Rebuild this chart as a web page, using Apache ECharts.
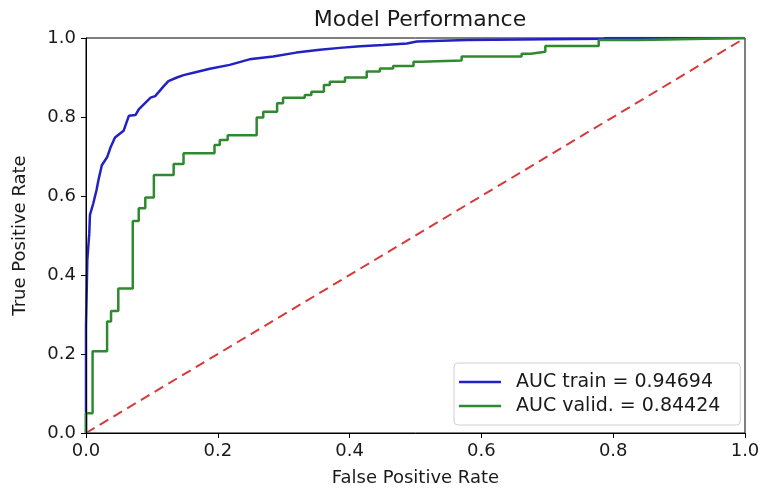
<!DOCTYPE html>
<html>
<head>
<meta charset="utf-8">
<script src="https://cdn.jsdelivr.net/npm/echarts@6/dist/echarts.min.js"></script>
<style>
  html, body { margin: 0; padding: 0; background: #fff; }
  #chart { width: 766px; height: 492px; }
</style>
</head>
<body>
<div id="chart"></div>
<script>
// ROC curve of the training set (false positive rate, true positive rate)
const trainFpr = [0, 0, 0.002, 0.005, 0.006, 0.011, 0.016, 0.019, 0.024, 0.032, 0.037, 0.044,
  0.057, 0.065, 0.075, 0.080, 0.090, 0.098, 0.105, 0.118, 0.125, 0.138, 0.148, 0.163,
  0.188, 0.218, 0.248, 0.284, 0.319, 0.355, 0.385, 0.416, 0.451, 0.487, 0.502, 0.578,
  0.700, 0.785, 0.790, 1.0];
const trainTpr = [0, 0.27, 0.438, 0.506, 0.552, 0.581, 0.615, 0.641, 0.678, 0.698, 0.722, 0.748,
  0.765, 0.803, 0.805, 0.819, 0.836, 0.849, 0.853, 0.878, 0.891, 0.900, 0.906, 0.912,
  0.922, 0.932, 0.946, 0.953, 0.963, 0.970, 0.975, 0.979, 0.982, 0.986, 0.991, 0.995,
  0.997, 0.998, 1.0, 1.0];

// ROC curve of the validation set: each pair is where a step rises and the height it reaches
const validFpr = [0, 0, 0.010, 0.032, 0.038, 0.049, 0.071, 0.080, 0.090, 0.103, 0.133, 0.148,
  0.195, 0.203, 0.215, 0.259, 0.269, 0.290, 0.299, 0.332, 0.342, 0.361, 0.370, 0.393,
  0.426, 0.446, 0.466, 0.497, 0.509, 0.570, 0.661, 0.675, 0.697, 0.778, 0.841, 1.0];
const validTpr = [0, 0.05, 0.207, 0.282, 0.309, 0.366, 0.537, 0.569, 0.596, 0.653, 0.681, 0.708,
  0.729, 0.742, 0.754, 0.799, 0.813, 0.835, 0.849, 0.856, 0.864, 0.881, 0.889, 0.900,
  0.915, 0.923, 0.929, 0.940, 0.943, 0.953, 0.960, 0.965, 0.980, 0.995, 1.0, 1.0];

// Chance line
const chanceX = [0, 1];
const chanceY = [0, 1];

const aucTrain = 0.94694;
const aucValid = 0.84424;
const seriesNames = ['AUC train = ' + aucTrain.toFixed(5), 'AUC valid. = ' + aucValid.toFixed(5)];
const tickValues = [0, 0.2, 0.4, 0.6, 0.8, 1.0];

const pairs = (xs, ys) => xs.map((x, i) => [x, ys[i]]);

const FONT = 'DejaVu Sans';
const TEXT = '#1a1a1a';
const BLUE = '#2222c4';
const GREEN = '#2f892f';

const axisCommon = {
  type: 'value',
  min: tickValues[0],
  max: tickValues[tickValues.length - 1],
  interval: 0.2,
  z: 5,
  splitLine: { show: false },
  axisLine: { show: true, lineStyle: { color: '#000', width: 1 } },
  axisTick: { show: true, inside: false, length: 5, lineStyle: { color: '#000', width: 1 } },
  axisLabel: {
    color: TEXT, fontFamily: FONT, fontSize: 18,
    formatter: v => v.toFixed(1)
  },
  nameLocation: 'middle',
  nameTextStyle: { color: TEXT, fontFamily: FONT, fontSize: 18 }
};

const chart = echarts.init(document.getElementById('chart'), null, { renderer: 'canvas' });
chart.setOption({
  animation: false,
  backgroundColor: '#fff',
  title: {
    text: 'Model Performance',
    left: 415, top: 4, textAlign: 'center',
    textStyle: { color: TEXT, fontFamily: FONT, fontSize: 22, fontWeight: 'normal' }
  },
  grid: {
    left: 86, right: 21, top: 38, bottom: 59,
    show: true, borderColor: '#000', borderWidth: 1, backgroundColor: '#fff'
  },
  xAxis: Object.assign({}, axisCommon, {
    name: 'False Positive Rate', nameGap: 36,
    axisLabel: Object.assign({}, axisCommon.axisLabel, { margin: 9 })
  }),
  yAxis: Object.assign({}, axisCommon, {
    name: 'True Positive Rate', nameGap: 57,
    axisLabel: Object.assign({}, axisCommon.axisLabel, { margin: 10 })
  }),
  legend: {
    orient: 'vertical',
    left: 454, top: 363,
    padding: [8, 20, 8, 5],
    icon: 'rect',
    itemWidth: 42, itemHeight: 2.5, itemGap: 2,
    backgroundColor: 'rgba(255,255,255,0.8)',
    borderColor: '#d0d0d0', borderWidth: 1, borderRadius: 4,
    textStyle: { color: TEXT, fontFamily: FONT, fontSize: 19, lineHeight: 22, padding: [0, 0, 0, 10] },
    data: seriesNames
  },
  series: [
    {
      name: seriesNames[0], type: 'line', data: pairs(trainFpr, trainTpr),
      showSymbol: false, symbol: 'none', clip: true,
      lineStyle: { color: BLUE, width: 2.5 }, itemStyle: { color: BLUE }, z: 3
    },
    {
      name: seriesNames[1], type: 'line', data: pairs(validFpr, validTpr), step: 'end',
      showSymbol: false, symbol: 'none', clip: true,
      lineStyle: { color: GREEN, width: 2.5 }, itemStyle: { color: GREEN }, z: 3
    },
    {
      name: 'chance', type: 'line', data: pairs(chanceX, chanceY),
      showSymbol: false, symbol: 'none', clip: true,
      lineStyle: { color: '#d83a3a', width: 2, type: [10, 6] }, z: 2
    }
  ]
});
</script>
</body>
</html>
